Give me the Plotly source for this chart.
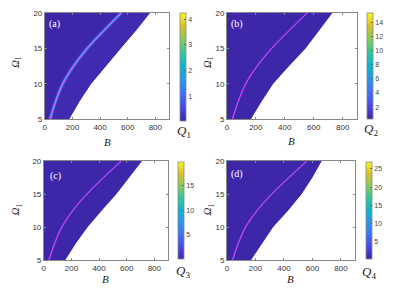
import plotly.graph_objects as go

W, H = 397, 297

# ---- data ----
omega = [5, 7.5, 10, 12.5, 15, 17.5, 20]
boundary_a = [175, 250, 335, 440, 550, 660, 762]
boundary_b = [165, 240, 320, 430, 545, 640, 730]
boundary_c = [156, 232, 318, 420, 526, 620, 711]
boundary_d = [170, 245, 325, 430, 525, 600, 665]
ridge_a = [38, 78, 130, 208, 308, 428, 554]
ridge_b = [38, 78, 130, 209, 310, 430, 556]
ridge_c = [38, 78, 131, 210, 312, 432, 560]
ridge_d = [40, 80, 132, 212, 315, 435, 560]
cmin_vals = [0.05, 0.35, 0.1, 0.2]
cmax_vals = [4.25, 15.4, 19.7, 26.9]
cbar_ticks = [[1, 2, 3, 4], [2, 4, 6, 8, 10, 12, 14], [5, 10, 15], [5, 10, 15, 20, 25]]
panel_labels = ["(a)", "(b)", "(c)", "(d)"]
q_labels = ["<i>Q</i><sub>1</sub>", "<i>Q</i><sub>2</sub>", "<i>Q</i><sub>3</sub>", "<i>Q</i><sub>4</sub>"]
x_ticks = [0, 200, 400, 600, 800]
y_ticks = [5, 10, 15, 20]

parula = [
    [0.0, "rgb(62,38,168)"], [0.125, "rgb(71,71,235)"], [0.25, "rgb(62,111,255)"],
    [0.375, "rgb(39,150,235)"], [0.5, "rgb(8,181,208)"], [0.625, "rgb(49,198,159)"],
    [0.75, "rgb(129,204,89)"], [0.875, "rgb(220,189,41)"], [1.0, "rgb(249,251,21)"],
]
base = "rgb(62,38,168)"

# pixel layout: (left, right, top, bottom) plot areas, colorbar (left, top, bottom)
plots = [(43, 168, 9, 119), (226, 357, 9, 119), (42, 167, 162, 264), (226, 355, 162, 264)]
cbars = [(179, 9, 120), (367, 9, 118), (177, 163, 263), (366, 163, 263)]
qpos = [(183, 131), (371, 129), (182, 276), (369, 277)]
bpos = [(106, 142), (291, 141), (104, 284), (290, 284)]
ypos = [(14, 60), (207, 60), (14, 212), (207, 212)]
lpos = [(45, 21), (228, 21), (46, 177), (228, 175)]

boundaries = [boundary_a, boundary_b, boundary_c, boundary_d]
ridges = [ridge_a, ridge_b, ridge_c, ridge_d]

fig = go.Figure()
layout = dict(width=W, height=H, margin=dict(l=0, r=0, t=0, b=0),
              paper_bgcolor="white", plot_bgcolor="white", showlegend=False,
              annotations=[])

def px(x):
    return x / W

def py(y):
    return 1 - y / H

for i in range(4):
    xa = "x" if i == 0 else f"x{i+1}"
    ya = "y" if i == 0 else f"y{i+1}"
    bnd = boundaries[i]
    rdg = ridges[i]
    # region
    fig.add_trace(go.Scatter(x=[0, 0] + bnd[::-1], y=[5, 20] + omega[::-1],
                             fill="toself", fillcolor=base, mode="lines",
                             line=dict(width=0, color=base),
                             xaxis=xa, yaxis=ya, hoverinfo="skip"))
    if i == 0:
        fig.add_trace(go.Scatter(x=rdg + bnd[::-1], y=omega + omega[::-1],
                                 fill="toself", fillcolor="rgb(64,42,176)", mode="lines",
                                 line=dict(width=0, color="rgb(64,42,176)"),
                                 xaxis=xa, yaxis=ya, hoverinfo="skip"))
        glow = [(4.5, "rgba(60,95,240,0.35)"), (2.4, "rgba(60,120,250,0.85)"),
                (1.5, "rgb(60,170,235)"), (1.0, "rgb(255,70,235)")]
    else:
        glow = [(2.2, "rgba(70,80,235,0.5)"), (1.0, "rgb(250,60,250)")]
    for wdt, col in glow:
        fig.add_trace(go.Scatter(x=rdg, y=omega, mode="lines",
                                 line=dict(width=wdt, color=col, shape="spline", smoothing=1.0),
                                 xaxis=xa, yaxis=ya, hoverinfo="skip"))
    # colorbar carrier
    cl, ct, cb = cbars[i]
    fig.add_trace(go.Scatter(x=[-1000, -1000], y=[0, 0], mode="markers",
                             marker=dict(color=[cmin_vals[i], cmax_vals[i]],
                                         cmin=cmin_vals[i], cmax=cmax_vals[i],
                                         colorscale=parula, showscale=True, size=1,
                                         colorbar=dict(x=px(cl), xanchor="left", xpad=0, ypad=0,
                                                       y=py(ct), yanchor="top",
                                                       len=(cb - ct) / H, lenmode="fraction",
                                                       thickness=6, thicknessmode="pixels",
                                                       outlinecolor="#888", outlinewidth=0.8,
                                                       tickvals=cbar_ticks[i], ticks="inside",
                                                       ticklen=2, tickcolor="#666",
                                                       tickfont=dict(family="Liberation Sans", size=7, color="#444"))),
                             xaxis=xa, yaxis=ya, hoverinfo="skip"))
    l, r, t, b = plots[i]
    axkey = "xaxis" if i == 0 else f"xaxis{i+1}"
    aykey = "yaxis" if i == 0 else f"yaxis{i+1}"
    layout[axkey] = dict(domain=[px(l), px(r)], anchor=ya, range=[0, 900],
                         tickvals=x_ticks, ticks="inside", ticklen=2.5, tickcolor="#888",
                         showline=True, linecolor="#888", linewidth=0.8, mirror="ticks",
                         showgrid=False, zeroline=False,
                         tickfont=dict(family="Liberation Sans", size=8, color="#333"))
    layout[aykey] = dict(domain=[py(b), py(t)], anchor=xa, range=[5, 20],
                         tickvals=y_ticks, ticks="inside", ticklen=2.5, tickcolor="#888",
                         showline=True, linecolor="#888", linewidth=0.8, mirror="ticks",
                         showgrid=False, zeroline=False,
                         tickfont=dict(family="Liberation Sans", size=8, color="#333"))
    anns = layout["annotations"]
    anns.append(dict(x=px(lpos[i][0]), y=py(lpos[i][1]), xref="paper", yref="paper",
                     xanchor="left", yanchor="middle", showarrow=False, text=panel_labels[i],
                     font=dict(family="Liberation Serif", size=10, color="white")))
    anns.append(dict(x=px(qpos[i][0]), y=py(qpos[i][1]), xref="paper", yref="paper",
                     xanchor="center", yanchor="middle", showarrow=False, text=q_labels[i],
                     font=dict(family="Liberation Serif", size=13, color="#222")))
    anns.append(dict(x=px(bpos[i][0]), y=py(bpos[i][1]), xref="paper", yref="paper",
                     xanchor="center", yanchor="middle", showarrow=False, text="<i>B</i>",
                     font=dict(family="Liberation Serif", size=11, color="#222")))
    anns.append(dict(x=px(ypos[i][0]), y=py(ypos[i][1]), xref="paper", yref="paper",
                     xanchor="center", yanchor="middle", showarrow=False, textangle=-90,
                     text="<i>Ω</i><sub>1</sub>",
                     font=dict(family="Liberation Serif", size=11, color="#222")))

fig.update_layout(**layout)
fig.write_html("out.html", config={"displayModeBar": False},
               post_script="document.body.style.margin='0';document.body.style.overflow='hidden';")
